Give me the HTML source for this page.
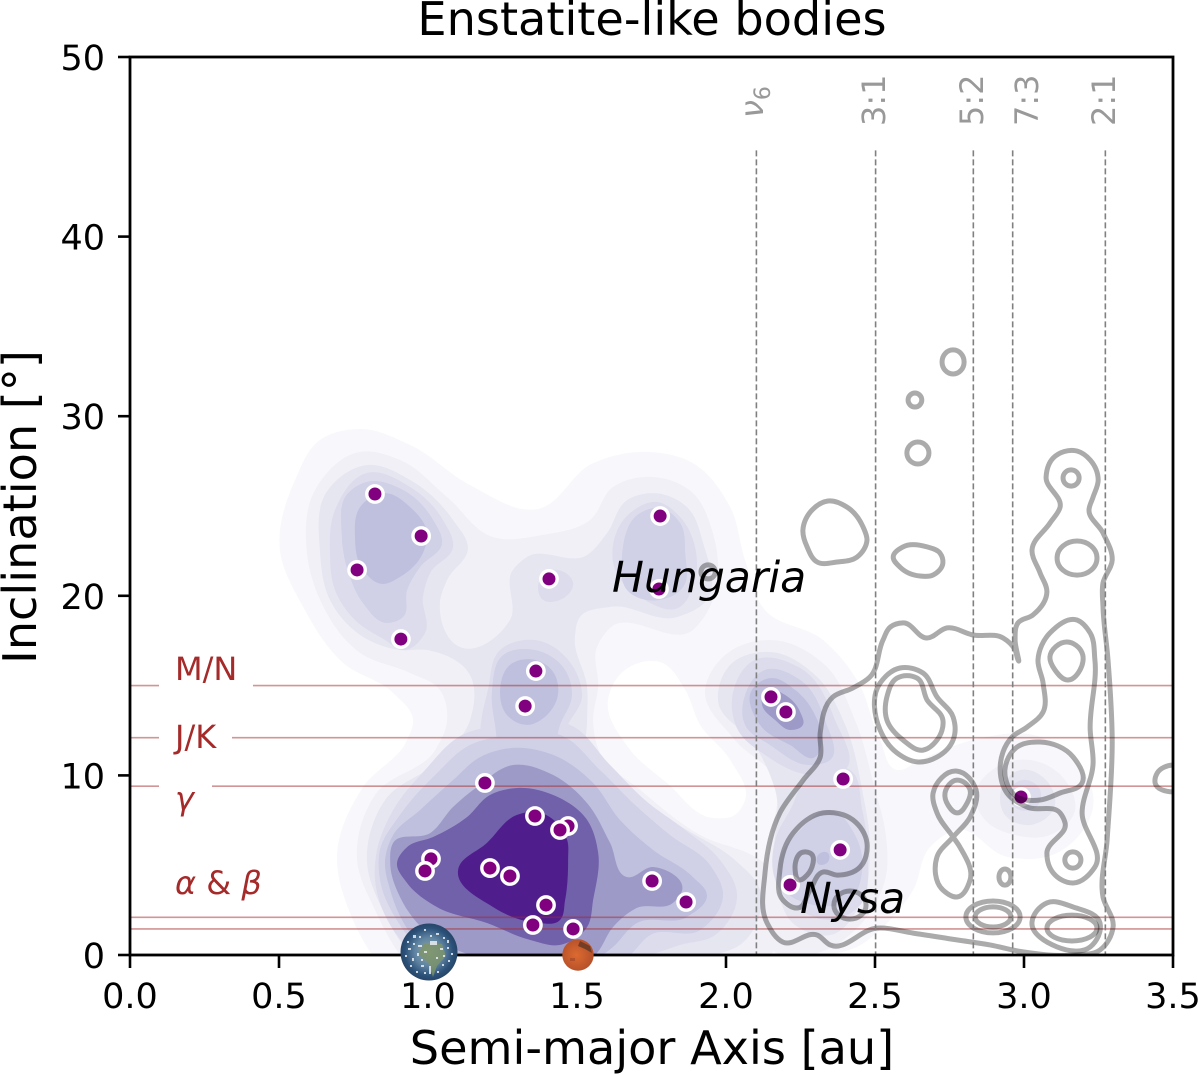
<!DOCTYPE html>
<html lang="en">
<head>
<meta charset="utf-8">
<title>Enstatite-like bodies</title>
<style>
html,body{margin:0;padding:0;background:#fff;}
svg{display:block;font-family:"DejaVu Sans","Liberation Sans",sans-serif;}
</style>
</head>
<body>
<svg id="chart" xmlns="http://www.w3.org/2000/svg" width="1200" height="1075" viewBox="0 0 1200 1075">
  <defs>
    <clipPath id="plot-clip"><rect x="130" y="57" width="1043" height="898"/></clipPath>
    <radialGradient id="earth-grad" cx="50%" cy="50%" r="50%">
      <stop offset="0%" stop-color="#93a8a0"/>
      <stop offset="50%" stop-color="#5f84a2"/>
      <stop offset="85%" stop-color="#2b5078"/>
      <stop offset="100%" stop-color="#274668"/>
    </radialGradient>
    <radialGradient id="mars-grad" cx="45%" cy="50%" r="55%">
      <stop offset="0%" stop-color="#dc6a30"/>
      <stop offset="100%" stop-color="#b5502a"/>
    </radialGradient>
  </defs>
  <rect x="0" y="0" width="1200" height="1075" fill="#fff"/>
  <g id="kde" clip-path="url(#plot-clip)"></g>
  <g id="hlines" clip-path="url(#plot-clip)"></g>
  <g id="points" clip-path="url(#plot-clip)"></g>
  <g id="contours" clip-path="url(#plot-clip)"></g>
  <g id="vlines"></g>

  <g fill="#a52a2a" font-size="32">
    <rect x="159" y="650" width="94" height="42" fill="#fff"/>
    <rect x="159" y="720" width="73" height="34" fill="#fff"/>
    <rect x="159" y="770" width="53" height="50" fill="#fff"/>
    <text x="175" y="680">M/N</text>
    <text x="175" y="748">J/K</text>
    <text x="175" y="810" font-style="italic">γ</text>
    <text x="175" y="894"><tspan font-style="italic">α</tspan> &amp; <tspan font-style="italic">β</tspan></text>
  </g>

  <g fill="#999" font-size="32">
    <text transform="translate(763,118) rotate(-90)"><tspan font-style="italic">ν</tspan><tspan font-size="22" dy="7">6</tspan></text>
    <text transform="translate(885,126) rotate(-90)">3:1</text>
    <text transform="translate(983,126) rotate(-90)">5:2</text>
    <text transform="translate(1038,126) rotate(-90)">7:3</text>
    <text transform="translate(1115,126) rotate(-90)">2:1</text>
  </g>

  <g id="axes"></g>
  <rect x="130" y="57" width="1043" height="898" fill="none" stroke="#000" stroke-width="2.8"/>

  <text x="612" y="592" font-size="42.5" font-style="italic" fill="#000">Hungaria</text>
  <text x="800" y="913" font-size="42.5" font-style="italic" fill="#000">Nysa</text>

  <g>
    <circle cx="429" cy="952" r="28.5" fill="url(#earth-grad)"/>
    <path d="M424 944 L442 944 L446 956 L437 966 L433 977 L428 962 L418 954 Z" fill="#7d9468" opacity=".8"/>
    <g fill="#e8eef2" opacity=".85">
      <rect x="413" y="935" width="3" height="3"/><rect x="424" y="929" width="2" height="2"/><rect x="436" y="933" width="3" height="2"/>
      <rect x="447" y="940" width="2" height="3"/><rect x="408" y="948" width="3" height="2"/><rect x="418" y="945" width="4" height="2"/>
      <rect x="430" y="941" width="7" height="4"/><rect x="440" y="948" width="3" height="2"/><rect x="451" y="953" width="2" height="2"/>
      <rect x="412" y="958" width="2" height="3"/><rect x="421" y="965" width="3" height="2"/><rect x="429" y="966" width="2" height="8"/>
      <rect x="442" y="964" width="2" height="2"/><rect x="416" y="971" width="2" height="2"/><rect x="407" y="941" width="2" height="2"/>
      <rect x="419" y="936" width="2" height="2"/><rect x="430" y="935" width="2" height="2"/><rect x="443" y="937" width="2" height="2"/>
      <rect x="413" y="943" width="2" height="2"/><rect x="424" y="951" width="3" height="2"/><rect x="405" y="955" width="2" height="2"/>
      <rect x="417" y="953" width="2" height="3"/><rect x="447" y="947" width="2" height="2"/><rect x="436" y="957" width="2" height="2"/>
      <rect x="448" y="960" width="2" height="2"/><rect x="410" y="965" width="2" height="2"/><rect x="424" y="972" width="2" height="2"/>
      <rect x="437" y="971" width="2" height="2"/><rect x="443" y="955" width="2" height="2"/><rect x="421" y="959" width="2" height="2"/>
    </g>
  </g>
  <g>
    <circle cx="578" cy="955" r="15.7" fill="url(#mars-grad)"/>
    <path d="M580 941 L590 946 L592 953 L585 949 L578 946 Z" fill="#5a3524" opacity=".75"/>
    <rect x="570" y="958" width="5" height="3" fill="#9c4526" opacity=".6"/>
  </g>

  <text x="652" y="35" font-size="46.2" text-anchor="middle" fill="#000">Enstatite-like bodies</text>
  <text x="652" y="1064" font-size="46.2" text-anchor="middle" fill="#000">Semi-major Axis [au]</text>
  <text transform="translate(36,507) rotate(-90)" font-size="46.2" text-anchor="middle" fill="#000">Inclination [°]</text>

<script>
/* ---------- axis tick data ---------- */
var xTicks = [0, 0.5, 1, 1.5, 2, 2.5, 3, 3.5];
var xTickLabels = ["0.0", "0.5", "1.0", "1.5", "2.0", "2.5", "3.0", "3.5"];
var yTicks = [0, 10, 20, 30, 40, 50];
var yTickLabels = ["0", "10", "20", "30", "40", "50"];

/* ---------- asteroids: semi-major axis [au] and inclination [deg] ---------- */
var asteroidAxis = [0.822,0.977,0.762,0.909,1.406,1.779,1.775,1.362,1.326,2.151,2.201,2.393,2.383,2.215,2.990,1.191,1.359,1.470,1.443,1.010,0.990,1.208,1.275,1.396,1.352,1.487,1.752,1.866];
var asteroidIncl = [25.67,23.33,21.44,17.59,20.94,24.44,20.38,15.81,13.86,14.37,13.53,9.80,5.85,3.90,8.80,9.58,7.74,7.18,6.96,5.35,4.68,4.84,4.40,2.78,1.67,1.45,4.12,2.95];

/* ---------- reference lines ---------- */
var familyInclinations = [15, 12.1, 9.4, 2.1, 1.45];
var resonanceAxes = [2.102, 2.502, 2.83, 2.962, 3.273];
var resonanceTop = 44.8;

/* ---------- KDE iso-density regions: flat a,i pairs per lobe ---------- */
var kdeLevel1 = [[.772,29.29,.940,28.40,1.141,26.17,1.366,24.83,1.554,27.39,1.722,28.01,1.889,27.39,2.014,24.94,2.064,21.99,2.131,19.21,2.326,17.54,2.440,15.31,2.517,11.97,2.574,10.30,2.651,10.86,2.829,11.97,3.054,12.14,3.232,8.24,3.111,5.68,2.943,5.46,2.775,6.96,2.685,6.01,2.628,3.62,2.527,1.56,2.440,.45,2.349,0,.812,0,.748,1.95,.695,5.68,.782,9.35,.930,11.97,.950,13.08,.883,14.59,.715,16.26,.581,19.38,.503,22.55,.554,26.45,.638,28.68]];
var kdeHole = [1.661,15.87,1.779,16.31,1.863,14.76,1.913,12.81,2.014,10.86,2.064,8.63,2.030,7.80,1.957,7.63,1.802,9.58,1.671,11.58,1.604,14.20];
var kdeLevel2 = [
 [.772,28.01,.906,27.56,1.064,25.50,1.218,23.27,1.386,23.39,1.544,24.22,1.621,26.06,1.745,26.62,1.889,25.72,1.953,23.66,1.946,19.38,1.889,18.10,1.611,18.21,1.567,17.15,1.571,14.92,1.554,13.08,1.577,11.25,1.712,9.19,1.913,6.68,2.114,5.29,2.215,3.62,2.215,1.39,2.148,0,.906,0,.822,2.51,.762,5.29,.822,8.91,1.024,11.41,1.064,13.08,1.040,14.76,.940,15.70,.772,16.82,.638,19.77,.594,22.38,.621,25.89],
 [1.930,14.76,1.997,16.70,2.148,17.54,2.332,16.15,2.433,13.08,2.500,9.19,2.534,6.96,2.534,4.18,2.450,1.67,2.282,0,2.181,0,2.114,3.06,2.148,6.40,2.165,9.74,2.030,11.97],
 [2.836,8.80,2.920,10.58,3.020,10.86,3.138,9.74,3.171,8.07,3.087,6.68,2.970,6.68,2.869,7.52]
];
var kdeLevel3 = [
 [.795,27.28,.940,26.45,1.084,24.22,1.134,22.66,1.064,20.88,1.040,19.60,1.107,17.15,1.275,18.65,1.285,21.44,1.332,22.16,1.534,22.27,1.601,23.50,1.668,25.33,1.755,25.72,1.869,24.94,1.923,22.94,1.936,19.77,1.836,18.82,1.611,19.38,1.510,18.82,1.493,17.71,1.534,14.92,1.534,13.08,1.534,11.25,1.644,9.35,1.869,6.96,2.030,5.29,2.114,3.62,2.047,.56,1.963,0,.940,0,.856,2.23,.795,5.29,.856,8.63,1.040,10.86,1.141,13.08,1.141,15.59,.997,16.98,.906,16.98,.772,17.82,.671,19.77,.638,22.38,.664,25.89],
 [1.973,14.20,2.014,16.15,2.148,16.87,2.299,15.59,2.400,12.81,2.457,9.19,2.483,5.85,2.457,3.06,2.349,1.11,2.232,1.67,2.165,4.18,2.165,9.19,2.097,11.69],
 [2.920,8.91,2.987,10.30,3.087,9.47,3.104,8.35,3.020,7.24,2.936,7.80]
];
var kdeLevel4 = [
 [.795,26.84,.940,26.06,1.050,24.22,1.084,22.72,1.007,21.27,.983,19.93,.990,17.93,.916,16.98,.856,17.54,.755,18.65,.688,20.32,.671,22.38,.688,24.78],
 [1.678,24.61,1.769,25.22,1.846,24.39,1.896,22.72,1.889,20.49,1.846,19.38,1.712,19.93,1.628,21.44],
 [1.369,20.49,1.420,21.44,1.487,20.71,1.443,19.77,1.386,19.77],
 [1.201,14.76,1.242,16.98,1.359,17.54,1.483,16.15,1.517,14.48,1.460,12.25,1.477,10.86,1.175,10.86,1.175,12.53],
 [2.020,14.20,2.097,16.43,2.249,15.98,2.366,13.08,2.400,10.30,2.282,10.02,2.131,11.14,2.040,12.53],
 [2.299,10.30,2.416,10.30,2.457,8.07,2.477,5.29,2.450,2.78,2.349,1.95,2.249,2.51,2.165,4.18,2.165,6.40,2.215,8.07],
 [2.947,8.91,2.994,9.74,3.054,9.19,3.047,8.35,2.987,8.07],
 [1.275,12.81,1.477,12.81,1.611,10.58,1.728,8.63,1.863,6.96,1.980,5.29,2.037,3.34,1.963,1.11,1.846,.56,1.745,0,.956,0,.873,1.67,.822,4.18,.829,5.85,.883,8.07,.990,10.30,1.114,12.25]
];
var kdeLevel5 = [
 [.711,23.27,.732,25.72,.795,26.34,.916,25.89,1.017,24.22,1.047,22.94,.973,21.60,.930,20.32,.916,18.82,.862,18.49,.782,19.60,.738,21.05],
 [1.651,22.16,1.712,24.61,1.779,24.89,1.846,24.05,1.863,22.38,1.856,20.49,1.779,19.77,1.668,20.32],
 [1.215,14.76,1.252,16.70,1.359,16.98,1.460,15.87,1.483,14.48,1.443,12.81,1.416,11.53,1.242,11.53,1.225,12.81],
 [2.064,14.48,2.131,15.87,2.249,15.31,2.332,13.08,2.349,10.86,2.282,10.58,2.148,11.69,2.064,12.81],
 [2.249,6.96,2.349,8.07,2.433,6.68,2.457,4.73,2.416,3.06,2.299,2.78,2.198,3.62,2.181,5.29],
 [1.285,12.25,1.443,12.25,1.577,10.30,1.695,8.35,1.812,6.68,1.946,5.01,1.990,3.34,1.913,1.39,1.745,1.11,1.678,0,.990,0,.906,1.67,.839,4.18,.839,5.85,.906,7.80,1.024,10.02,1.141,11.69]
];
var kdeLevel6 = [
 [.755,23.27,.772,24.94,.856,25.72,.940,24.94,.997,23.50,.983,22.38,.906,21.05,.846,20.66,.782,21.44],
 [1.242,14.76,1.275,16.15,1.359,16.43,1.420,15.76,1.436,14.48,1.399,13.36,1.332,12.81,1.265,13.36],
 [2.087,14.76,2.148,15.42,2.232,14.76,2.299,13.36,2.322,11.97,2.299,11.02,2.215,11.69,2.114,12.81],
 [2.309,5.57,2.342,5.68,2.342,5.18,2.309,5.07],
 [1.285,11.53,1.420,11.14,1.554,9.58,1.644,7.52,1.755,5.85,1.889,4.34,1.936,3.34,1.869,2.12,1.701,1.78,1.621,.45,1.587,0,1.007,0,.950,1.00,.873,3.62,.856,5.29,.883,6.68,.973,8.07,1.084,9.74,1.175,11.02]
];
var kdeLevel7 = [
 [2.131,14.76,2.198,14.48,2.249,13.53,2.258,12.81,2.215,12.53,2.165,13.08,2.121,13.92],
 [1.285,10.58,1.420,10.02,1.534,8.46,1.611,6.24,1.668,4.34,1.755,4.90,1.853,3.62,1.822,2.90,1.701,2.62,1.621,1.56,1.567,.11,1.141,0,1.007,1.11,.906,3.23,.873,5.12,.883,6.24,1.007,6.79,1.084,8.24,1.164,9.35]
];
var kdeLevel8 = [[1.299,9.30,1.420,8.91,1.534,7.52,1.571,5.68,1.554,3.06,1.534,1.56,1.443,.56,1.342,.84,1.198,1.78,1.030,2.67,.930,4.01,.896,5.12,.930,6.01,1.017,6.57,1.131,7.68,1.208,8.91]];
var kdeLevel9 = [[1.101,4.73,1.198,6.24,1.299,7.80,1.366,7.96,1.467,6.40,1.470,5.29,1.460,3.06,1.443,1.95,1.352,1.84,1.218,2.67]];
var kdePalette = ["#f8f7fb","#f1f0f7","#e6e6f1","#dcdcec","#d0d0e6","#bfc0de","#9e9ac8","#7160aa","#4f1d8c"];

/* ---------- background population iso-lines: flat a,i pairs per loop ---------- */
var contourLoops = [
 [2.258,23.66,2.289,24.78,2.342,25.28,2.406,24.94,2.460,23.83,2.473,23.11,2.440,22.16,2.373,21.88,2.306,21.88,2.272,22.72],
 [2.561,22.16,2.594,22.72,2.675,22.72,2.718,22.38,2.728,21.83,2.695,21.16,2.651,21.10,2.584,21.60],
 [3.074,26.62,3.098,27.67,3.178,28.06,3.222,27.56,3.249,26.45,3.232,25.50,3.218,24.78,3.265,23.50,3.296,21.99,3.265,20.71,3.265,19.38,3.282,16.43,3.296,11.97,3.279,6.40,3.265,3.23,3.299,1.56,3.255,.28,3.165,0,2.997,.17,2.886,.56,2.775,.84,2.628,1.22,2.507,1.50,2.349,.56,2.306,1.11,2.191,.72,2.138,1.78,2.131,4.57,2.181,7.91,2.259,9.74,2.316,11.02,2.316,12.36,2.359,14.37,2.426,14.87,2.483,15.48,2.527,17.54,2.551,18.26,2.594,18.49,2.675,17.65,2.742,18.21,2.829,17.82,2.930,17.65,2.970,16.98,2.980,16.43,2.970,17.54,2.980,18.49,3.030,18.93,3.077,20.21,3.054,21.27,3.027,22.55,3.087,24.05,3.121,24.94],
 [3.047,16.43,3.087,17.93,3.178,18.65,3.222,17.93,3.238,16.43,3.222,12.53,3.232,10.69,3.195,7.91,3.238,4.90,3.165,4.01,3.098,4.57,3.077,5.68,3.138,7.35,3.121,7.91,3.010,8.24,2.943,9.02,2.920,10.30,2.960,12.14,3.010,12.69,3.064,13.53,3.064,15.14],
 [3.087,16.59,3.145,17.43,3.195,16.82,3.188,15.87,3.148,15.31,3.104,15.87],
 [2.936,10.30,2.977,11.58,3.054,11.86,3.165,11.02,3.195,9.58,3.121,9.02,3.054,8.63,2.977,8.80],
 [2.517,15.14,2.584,15.98,2.661,15.70,2.708,14.37,2.762,13.25,2.762,11.97,2.708,11.02,2.641,10.75,2.574,11.25,2.517,12.53],
 [2.540,14.37,2.574,15.42,2.641,15.42,2.675,14.20,2.728,13.08,2.708,11.97,2.661,11.41,2.594,11.97,2.540,13.08],
 [2.695,9.02,2.775,10.24,2.839,9.19,2.819,7.68,2.762,6.57,2.708,5.46,2.728,3.62,2.775,3.23,2.819,4.18,2.785,6.01,2.762,6.57,2.708,7.91],
 [2.735,9.02,2.775,9.74,2.819,9.19,2.809,8.46,2.775,7.91,2.745,8.35],
 [3.027,1.84,3.077,2.90,3.165,2.67,3.255,1.78,3.222,.45,3.111,.45],
 [2.181,4.73,2.225,6.79,2.326,7.91,2.426,7.52,2.473,6.24,2.450,4.90,2.373,4.45,2.326,4.62,2.282,3.62,2.242,2.62,2.191,3.06],
 [2.232,4.73,2.259,5.73,2.282,5.68,2.272,4.45,2.245,4.18],
 [3.500,10.58,3.447,10.13,3.440,9.58,3.500,9.08,3.574,9.86]
];
/* small closed iso-lines: centre axis, centre inclination, half-width [au], half-height [deg] */
var ringAxis = [2.762,2.634,2.644,3.158,3.178,1.940,3.164,2.936,2.896,2.896,3.161,2.416];
var ringIncl = [33.02,30.90,27.95,26.56,22.10,21.33,5.29,4.34,2.12,2.12,1.50,2.78];
var ringHalfAxis = [.037,.023,.037,.027,.067,.024,.027,.02,.091,.06,.084,.054];
var ringHalfIncl = [.67,.39,.61,.45,.95,.39,.45,.45,.89,.56,.72,.78];

/* ---------- axis functions ---------- */
var X0 = 130, X1 = 1173, Y0 = 955, Y1 = 57;
function xScale(a) { return X0 + (a - 0) / (3.5 - 0) * (X1 - X0); }
function yScale(i) { return Y0 - (i - 0) / (50 - 0) * (Y0 - Y1); }

var NS = "http://www.w3.org/2000/svg";
function make(tag, parent) {
  var el = document.createElementNS(NS, tag);
  parent.appendChild(el);
  return el;
}
function fmt(v) { return v.toFixed(1); }
/* unit tangent at p1, weighted toward its shorter neighbouring segment so long runs do not overshoot */
function tangentAt(p0, p1, p2) {
  var ax = p1[0] - p0[0], ay = p1[1] - p0[1], bx = p2[0] - p1[0], by = p2[1] - p1[1];
  var d1 = Math.hypot(ax, ay) || 1, d2 = Math.hypot(bx, by) || 1;
  var tx = ax / d1 * d2 + bx / d2 * d1, ty = ay / d1 * d2 + by / d2 * d1;
  var m = Math.hypot(tx, ty) || 1;
  return [tx / m, ty / m];
}
function smoothClosed(flat) {
  var pts = [], k;
  for (k = 0; k < flat.length; k += 2) pts.push([xScale(flat[k]), yScale(flat[k + 1])]);
  var n = pts.length, d = "M" + fmt(pts[0][0]) + " " + fmt(pts[0][1]);
  for (k = 0; k < n; k++) {
    var p0 = pts[(k - 1 + n) % n], p1 = pts[k], p2 = pts[(k + 1) % n], p3 = pts[(k + 2) % n];
    var seg = Math.hypot(p2[0] - p1[0], p2[1] - p1[1]) / 3;
    var t1 = tangentAt(p0, p1, p2), t2 = tangentAt(p1, p2, p3);
    d += "C" + fmt(p1[0] + t1[0] * seg) + " " + fmt(p1[1] + t1[1] * seg) + " " + fmt(p2[0] - t2[0] * seg) + " " + fmt(p2[1] - t2[1] * seg) + " " + fmt(p2[0]) + " " + fmt(p2[1]);
  }
  return d + "Z";
}

/* ---------- KDE ---------- */
var kdeGroup = document.getElementById("kde");
var kdeLevels = [kdeLevel1, kdeLevel2, kdeLevel3, kdeLevel4, kdeLevel5, kdeLevel6, kdeLevel7, kdeLevel8, kdeLevel9];
kdeLevels.forEach(function (lobes, levelIndex) {
  lobes.forEach(function (lobe) {
    var el = make("path", kdeGroup);
    
    
    el.setAttribute("d", smoothClosed(lobe));
    el.setAttribute("fill", kdePalette[levelIndex]);
  });
  if (levelIndex === 0) {
    var hole = make("path", kdeGroup);
    
    
    hole.setAttribute("d", smoothClosed(kdeHole));
    hole.setAttribute("fill", "#ffffff");
  }
});

/* ---------- horizontal family lines ---------- */
var hlineGroup = document.getElementById("hlines");
familyInclinations.forEach(function (inc) {
  var el = make("line", hlineGroup);
  
  
  el.setAttribute("x1", X0);
  el.setAttribute("x2", X1);
  el.setAttribute("y1", yScale(inc));
  el.setAttribute("y2", yScale(inc));
  el.setAttribute("stroke", "#a52a2a");
  el.setAttribute("stroke-opacity", "0.5");
  el.setAttribute("stroke-width", "1.6");
});

/* ---------- asteroid points ---------- */
var pointGroup = document.getElementById("points");
asteroidAxis.forEach(function (a, idx) {
  var el = make("circle", pointGroup);
  
  
  el.setAttribute("cx", xScale(a));
  el.setAttribute("cy", yScale(asteroidIncl[idx]));
  el.setAttribute("r", "8.2");
  el.setAttribute("fill", "#800080");
  el.setAttribute("stroke", "#ffffff");
  el.setAttribute("stroke-width", "3.4");
});

/* ---------- background contours ---------- */
var contourGroup = document.getElementById("contours");
contourLoops.forEach(function (loop) {
  var el = make("path", contourGroup);
  
  
  el.setAttribute("d", smoothClosed(loop));
  el.setAttribute("fill", "none");
  el.setAttribute("stroke", "#000");
  el.setAttribute("stroke-opacity", "0.33");
  el.setAttribute("stroke-width", "5");
});
ringAxis.forEach(function (a, idx) {
  var el = make("ellipse", contourGroup);
  
  
  el.setAttribute("cx", xScale(a));
  el.setAttribute("cy", yScale(ringIncl[idx]));
  el.setAttribute("rx", xScale(a + ringHalfAxis[idx]) - xScale(a));
  el.setAttribute("ry", yScale(ringIncl[idx]) - yScale(ringIncl[idx] + ringHalfIncl[idx]));
  el.setAttribute("fill", "none");
  el.setAttribute("stroke", "#000");
  el.setAttribute("stroke-opacity", "0.33");
  el.setAttribute("stroke-width", "5");
});

/* ---------- resonance lines ---------- */
var vlineGroup = document.getElementById("vlines");
resonanceAxes.forEach(function (a) {
  var el = make("line", vlineGroup);
  
  
  el.setAttribute("x1", xScale(a));
  el.setAttribute("x2", xScale(a));
  el.setAttribute("y1", yScale(resonanceTop));
  el.setAttribute("y2", yScale(0));
  el.setAttribute("stroke", "#808080");
  el.setAttribute("stroke-width", "1.6");
  el.setAttribute("stroke-dasharray", "6 3");
});

/* ---------- axes ---------- */
var axesGroup = document.getElementById("axes");
xTicks.forEach(function (t, idx) {
  var tick = make("line", axesGroup);
  
  
  tick.setAttribute("x1", xScale(t));
  tick.setAttribute("x2", xScale(t));
  tick.setAttribute("y1", Y0);
  tick.setAttribute("y2", Y0 + 13);
  tick.setAttribute("stroke", "#000");
  tick.setAttribute("stroke-width", "2.6");
  var label = make("text", axesGroup);
  
  
  label.setAttribute("x", xScale(t));
  label.setAttribute("y", 1008);
  label.setAttribute("text-anchor", "middle");
  label.setAttribute("font-size", "35");
  label.textContent = xTickLabels[idx];
});
yTicks.forEach(function (t, idx) {
  var tick = make("line", axesGroup);
  
  
  tick.setAttribute("x1", X0 - 12);
  tick.setAttribute("x2", X0);
  tick.setAttribute("y1", yScale(t));
  tick.setAttribute("y2", yScale(t));
  tick.setAttribute("stroke", "#000");
  tick.setAttribute("stroke-width", "2.6");
  var label = make("text", axesGroup);
  
  
  label.setAttribute("x", 105);
  label.setAttribute("y", yScale(t) + 13);
  label.setAttribute("text-anchor", "end");
  label.setAttribute("font-size", "35");
  label.textContent = yTickLabels[idx];
});
</script>
</svg>
</body>
</html>
